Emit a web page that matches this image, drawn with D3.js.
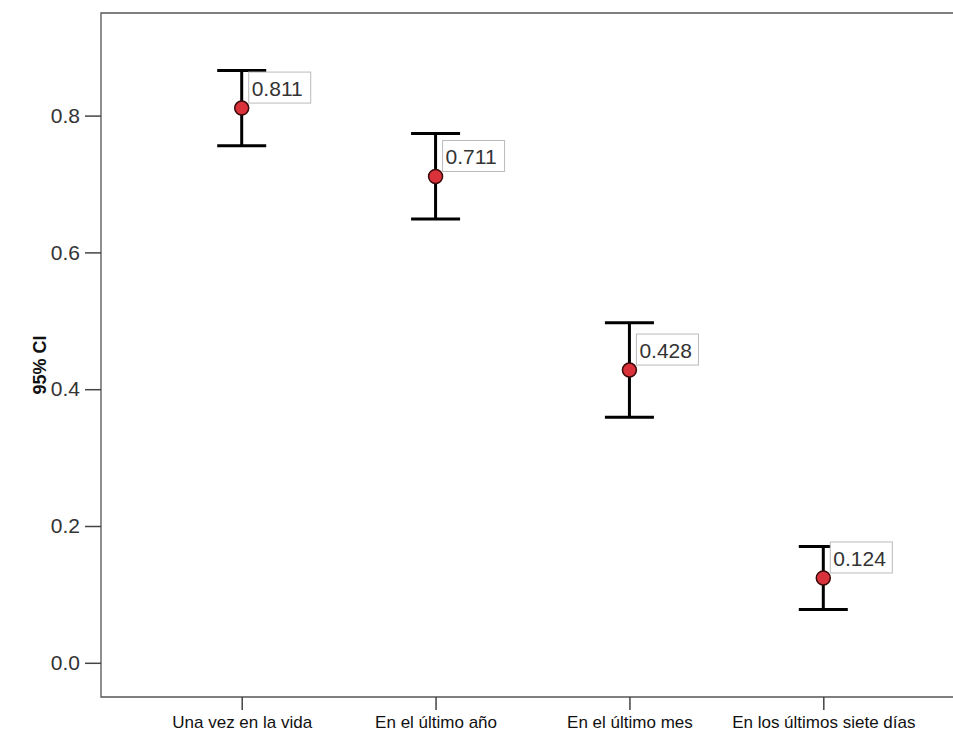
<!DOCTYPE html>
<html lang='en'>
  <head>
    <meta charset='utf-8'>
    <style>
      html, body { margin: 0; background: #fff; overflow: hidden; }
      svg { display: block; }
    </style>
  </head>
  <body>
    <div id='chart'></div>

    <script src='https://cdn.jsdelivr.net/npm/d3@7/dist/d3.min.js'></script>
    <script>
      var categories = ['Una vez en la vida', 'En el último año', 'En el último mes', 'En los últimos siete días'];
      var means = [0.811, 0.711, 0.428, 0.124];
      var lower = [0.756, 0.649, 0.359, 0.078];
      var upper = [0.866, 0.774, 0.497, 0.170];
      var yTicks = [0.0, 0.2, 0.4, 0.6, 0.8];

      var width = 953, height = 734;
      // plot frame: the right side is cut off in the original
      var plotLeft = 101, plotTop = 13, plotBottom = 697, plotRight = 990;

      var svg = d3.select('#chart').append('svg')
          .attr('width', width)
          .attr('height', height);

      var x = d3.scalePoint()
          .domain(categories)
          .range([241.7, 823.3]);

      var y = d3.scaleLinear()
          .domain([-0.05, 0.95])
          .range([plotBottom, plotTop]);

      svg.append('path')
          .attr('d', 'M' + plotRight + ',' + plotTop + 'H' + plotLeft + 'V' + plotBottom + 'H' + plotRight)
          .attr('fill', 'none')
          .attr('stroke', '#555')
          .attr('stroke-width', 1.3);

      var yAxis = svg.append('g')
          .attr('transform', 'translate(' + plotLeft + ',0)')
          .call(d3.axisLeft(y).tickValues(yTicks).tickFormat(d3.format('.1f')).tickSize(16).tickPadding(5));
      yAxis.select('.domain').remove();
      yAxis.selectAll('line').attr('stroke', '#444').attr('stroke-width', 1.5);
      yAxis.selectAll('text')
          .attr('font-family', 'Liberation Sans, Arial, sans-serif')
          .attr('font-size', 21)
          .attr('fill', '#333');

      var xAxis = svg.append('g')
          .attr('transform', 'translate(0,' + plotBottom + ')')
          .call(d3.axisBottom(x).tickSize(13).tickPadding(6));
      xAxis.select('.domain').remove();
      xAxis.selectAll('line').attr('stroke', '#444').attr('stroke-width', 1.5);
      xAxis.selectAll('text')
          .attr('font-family', 'Liberation Sans, Arial, sans-serif')
          .attr('font-size', 17)
          .attr('fill', '#111');

      svg.append('text')
          .attr('transform', 'translate(46,365) rotate(-90)')
          .attr('text-anchor', 'middle')
          .attr('font-family', 'Liberation Sans, Arial, sans-serif')
          .attr('font-weight', 'bold')
          .attr('font-size', 18)
          .attr('fill', '#111')
          .text('95% CI');

      var rows = categories.map(function (c, i) {
        return { cat: c, mean: means[i], lo: lower[i], hi: upper[i] };
      });

      var g = svg.selectAll('.ci')
          .data(rows)
        .enter().append('g')
          .attr('class', 'ci');

      g.append('line')
          .attr('x1', function (d) { return x(d.cat); })
          .attr('x2', function (d) { return x(d.cat); })
          .attr('y1', function (d) { return y(d.lo); })
          .attr('y2', function (d) { return y(d.hi); })
          .attr('stroke', '#000')
          .attr('stroke-width', 3);

      ['lo', 'hi'].forEach(function (k) {
        g.append('line')
            .attr('x1', function (d) { return x(d.cat) - 24.5; })
            .attr('x2', function (d) { return x(d.cat) + 24.5; })
            .attr('y1', function (d) { return y(d[k]); })
            .attr('y2', function (d) { return y(d[k]); })
            .attr('stroke', '#000')
            .attr('stroke-width', 3);
      });

      g.append('circle')
          .attr('cx', function (d) { return x(d.cat); })
          .attr('cy', function (d) { return y(d.mean); })
          .attr('r', 7)
          .attr('fill', '#d9323a')
          .attr('stroke', '#3a0a0a')
          .attr('stroke-width', 1.5);

      // value labels
      g.append('rect')
          .attr('x', function (d) { return x(d.cat) + 7; })
          .attr('y', function (d) { return y(d.mean) - 36; })
          .attr('width', 62)
          .attr('height', 31)
          .attr('fill', '#fff')
          .attr('stroke', '#bbb')
          .attr('stroke-width', 1);

      g.append('text')
          .attr('x', function (d) { return x(d.cat) + 10; })
          .attr('y', function (d) { return y(d.mean) - 12; })
          .attr('font-family', 'Liberation Sans, Arial, sans-serif')
          .attr('font-size', 21)
          .attr('fill', '#333')
          .text(function (d) { return d3.format('.3f')(d.mean); });
    </script>
  </body>
</html>
